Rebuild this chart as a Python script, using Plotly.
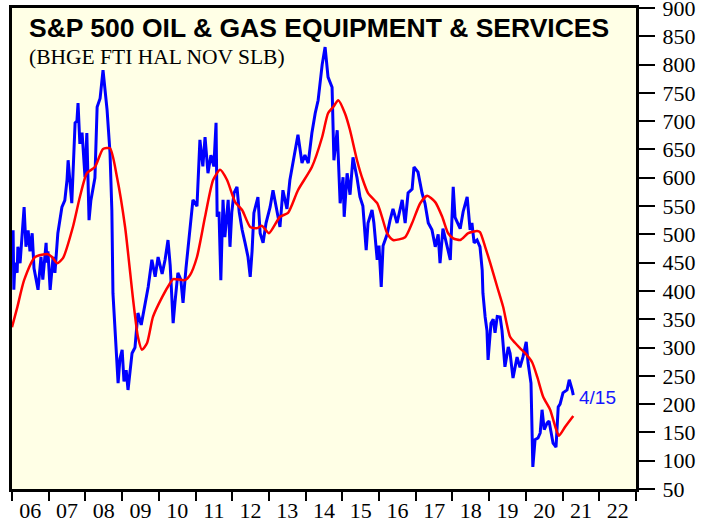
import datetime as dt
import plotly.graph_objects as go

# ---- data (decimal years, index level) ----
blue_t = [2006.00, 2006.03, 2006.05, 2006.08, 2006.14, 2006.16, 2006.22, 2006.25, 2006.33, 2006.38,
          2006.44, 2006.49, 2006.55, 2006.60, 2006.65, 2006.71, 2006.79, 2006.84, 2006.93, 2006.95,
          2006.98, 2007.04, 2007.12, 2007.17, 2007.25, 2007.36, 2007.44, 2007.50, 2007.53, 2007.58,
          2007.63, 2007.72, 2007.77, 2007.80, 2007.85,
          2007.91, 2007.99, 2008.04, 2008.10, 2008.15, 2008.26, 2008.32, 2008.40, 2008.48, 2008.59,
          2008.67, 2008.72, 2008.75, 2008.81, 2008.86, 2008.89, 2008.94, 2009.00, 2009.05, 2009.11,
          2009.16, 2009.22, 2009.27, 2009.35, 2009.43, 2009.52, 2009.62, 2009.71, 2009.81, 2009.90,
          2009.98, 2010.09, 2010.17, 2010.25, 2010.31, 2010.39, 2010.44, 2010.52, 2010.60, 2010.66,
          2010.74, 2010.85, 2010.93, 2011.04, 2011.12, 2011.20, 2011.26, 2011.34, 2011.42, 2011.50,
          2011.56, 2011.59, 2011.64, 2011.69, 2011.75, 2011.80, 2011.89, 2011.94, 2011.99, 2012.05,
          2012.13, 2012.19, 2012.27, 2012.35, 2012.43, 2012.49, 2012.54, 2012.59, 2012.70, 2012.76,
          2012.84, 2012.92, 2013.03, 2013.11, 2013.22,
          2013.30, 2013.38, 2013.49, 2013.57, 2013.66, 2013.79, 2013.90, 2013.98, 2014.07, 2014.17,
          2014.26, 2014.34, 2014.45, 2014.53, 2014.61, 2014.72, 2014.77, 2014.86, 2014.94, 2015.02,
          2015.05, 2015.13, 2015.21, 2015.29, 2015.40, 2015.48, 2015.56, 2015.65, 2015.70, 2015.81,
          2015.86, 2015.95, 2016.00, 2016.06, 2016.11, 2016.22, 2016.30, 2016.38, 2016.49, 2016.63,
          2016.71, 2016.79, 2016.90, 2016.95, 2017.06, 2017.17, 2017.25, 2017.34, 2017.44, 2017.53,
          2017.61, 2017.66, 2017.74, 2017.85, 2017.94, 2018.02, 2018.07, 2018.21, 2018.29, 2018.40,
          2018.48, 2018.53, 2018.59, 2018.67, 2018.75, 2018.81, 2018.83, 2018.89, 2018.94, 2018.97,
          2019.05, 2019.11, 2019.16, 2019.22, 2019.30, 2019.35, 2019.43, 2019.52, 2019.57, 2019.65,
          2019.76, 2019.84, 2019.92, 2020.01, 2020.06, 2020.14, 2020.17, 2020.19, 2020.25, 2020.33,
          2020.39, 2020.44, 2020.50, 2020.58, 2020.63, 2020.72, 2020.74, 2020.82, 2020.88, 2020.93,
          2021.01, 2021.12, 2021.18, 2021.26, 2021.29]
blue_v = [470, 507, 402, 450, 432, 478, 449, 478, 548, 478,
          507, 470, 502, 440, 419, 402, 460, 420, 485, 450,
          470, 402, 460, 432, 502, 548, 560, 596, 631, 590,
          555, 697, 700, 732, 660,
          680, 601, 679, 525, 560, 600, 725, 740, 790, 720,
          644, 543, 396, 326, 290, 237, 280, 296, 240, 260,
          225, 265, 290, 300, 361, 340, 372, 407, 455, 425,
          460, 430, 455, 490, 445, 343, 380, 432, 420, 379,
          440, 513, 561, 550, 667, 620, 672, 608, 640, 620,
          697, 531, 540, 419, 561, 495, 561, 478, 540, 573,
          584, 540, 508, 485, 460, 425, 470, 538, 566, 502,
          485, 520, 548, 578, 540,
          513, 578, 545, 596, 631, 676, 626, 640, 626, 679,
          714, 737, 800, 831, 778, 760, 631, 684, 555, 601,
          531, 608, 570, 636, 600, 566, 550, 472, 520, 543,
          520, 455, 480, 407, 480, 500, 525, 545, 520, 561,
          520, 573, 580, 619, 610, 573, 555, 520, 508, 478,
          500, 449, 510, 480, 455, 584, 530, 510, 540, 566,
          508, 520, 485, 490, 478, 437, 396, 354, 330, 278,
          343, 350, 326, 355, 354, 330, 266, 301, 290, 246,
          283, 265, 283, 310, 273, 237, 131, 89, 137, 140,
          149, 190, 155, 167, 170, 142, 131, 124, 195, 200,
          220, 225, 243, 225, 216]

red_t = [2006.00, 2006.14, 2006.33, 2006.63, 2006.98, 2007.09, 2007.23, 2007.39, 2007.66, 2007.85,
         2008.04, 2008.26, 2008.48, 2008.67, 2008.86, 2009.08, 2009.30, 2009.43, 2009.54, 2009.68,
         2009.84, 2010.09, 2010.31, 2010.39, 2010.71, 2010.85, 2011.04, 2011.26, 2011.48, 2011.67,
         2011.86, 2012.08, 2012.27, 2012.49, 2012.68, 2012.81, 2013.00, 2013.30, 2013.52, 2013.79,
         2014.17, 2014.45, 2014.61, 2014.75, 2014.89, 2015.07, 2015.21, 2015.40, 2015.56, 2015.70,
         2015.95, 2016.08, 2016.22, 2016.38, 2016.71, 2016.90, 2017.12, 2017.31, 2017.53, 2017.72,
         2017.88, 2018.02, 2018.21, 2018.43, 2018.67, 2018.75, 2018.89, 2019.03, 2019.22, 2019.38,
         2019.57, 2019.71, 2019.84, 2019.98, 2020.17, 2020.31, 2020.47, 2020.66, 2020.80, 2020.90,
         2021.07, 2021.29]
red_v = [336, 370, 419, 460, 465, 460, 449, 458, 513, 566,
         608, 619, 651, 652, 601, 513, 384, 319, 296, 308,
         354, 389, 414, 421, 419, 428, 460, 531, 596, 614,
         596, 557, 543, 513, 511, 515, 502, 531, 538, 578,
         619, 672, 714, 725, 737, 714, 684, 631, 596, 573,
         555, 531, 502, 490, 495, 520, 555, 568, 557, 531,
         502, 493, 490, 502, 506, 504, 478, 449, 407, 372,
         319, 308, 299, 290, 274, 248, 213, 190, 160, 144,
         160, 179]

y_ticks = list(range(50, 901, 50))

title_text = "S&P 500 OIL & GAS EQUIPMENT & SERVICES"
subtitle_text = "(BHGE FTI HAL NOV SLB)"
last_label = "4/15"
last_label_t = 2021.40
last_label_v = 211


def to_date(t):
    y = int(t)
    start = dt.datetime(y, 1, 1)
    days = (dt.datetime(y + 1, 1, 1) - start).days
    return start + dt.timedelta(days=(t - y) * days)


fig = go.Figure()
fig.add_trace(go.Scatter(x=[to_date(t) for t in blue_t], y=blue_v, mode="lines",
                         line=dict(color="#0000FF", width=3), showlegend=False))
fig.add_trace(go.Scatter(x=[to_date(t) for t in red_t], y=red_v, mode="lines",
                         line=dict(color="#FF0000", width=2.5, shape="spline", smoothing=0.6),
                         showlegend=False))

fig.add_annotation(x=0.024, y=0.958, xref="paper", yref="paper", text=f"<b>{title_text}</b>",
                   showarrow=False, xanchor="left", yanchor="middle",
                   font=dict(family="Liberation Sans, Arial", size=26.5, color="black"))
fig.add_annotation(x=0.024, y=0.898, xref="paper", yref="paper", text=subtitle_text,
                   showarrow=False, xanchor="left", yanchor="middle",
                   font=dict(family="Liberation Serif, Times New Roman", size=21.5, color="black"))
fig.add_annotation(x=to_date(last_label_t), y=last_label_v, text=last_label, showarrow=False,
                   xanchor="left", yanchor="middle",
                   font=dict(family="Liberation Sans, Arial", size=19, color="#1515FF"))

fig.update_layout(
    width=703, height=523,
    margin=dict(l=12, r=67, t=8, b=34),
    paper_bgcolor="white",
    plot_bgcolor="#FFFFE6",
    xaxis=dict(type="date", range=["2006-01-01", "2023-01-01"], tick0="2006-01-01", dtick="M12",
               tickformat="%y", ticklabelmode="period", ticks="outside", ticklen=9, tickwidth=2,
               tickcolor="black", showgrid=False, zeroline=False, showline=True, linewidth=3,
               linecolor="black", mirror=True, automargin=False, ticklabelstandoff=-9,
               ticklabeloverflow="allow",
               tickfont=dict(family="Liberation Serif, Times New Roman", size=22, color="black")),
    yaxis=dict(side="right", range=[50, 900], tickmode="array", tickvals=y_ticks,
               ticks="outside", ticklen=16, ticklabelstandoff=3, ticklabeloverflow="allow",
               tickwidth=1.5, tickcolor="black", showgrid=False, zeroline=False, showline=True,
               linewidth=3, linecolor="black", mirror=True, automargin=False,
               tickfont=dict(family="Liberation Serif, Times New Roman", size=22, color="black")),
)

fig.write_html("out.html", config={"displayModeBar": False},
               post_script="document.body.style.margin='0';document.body.style.overflow='hidden';")
